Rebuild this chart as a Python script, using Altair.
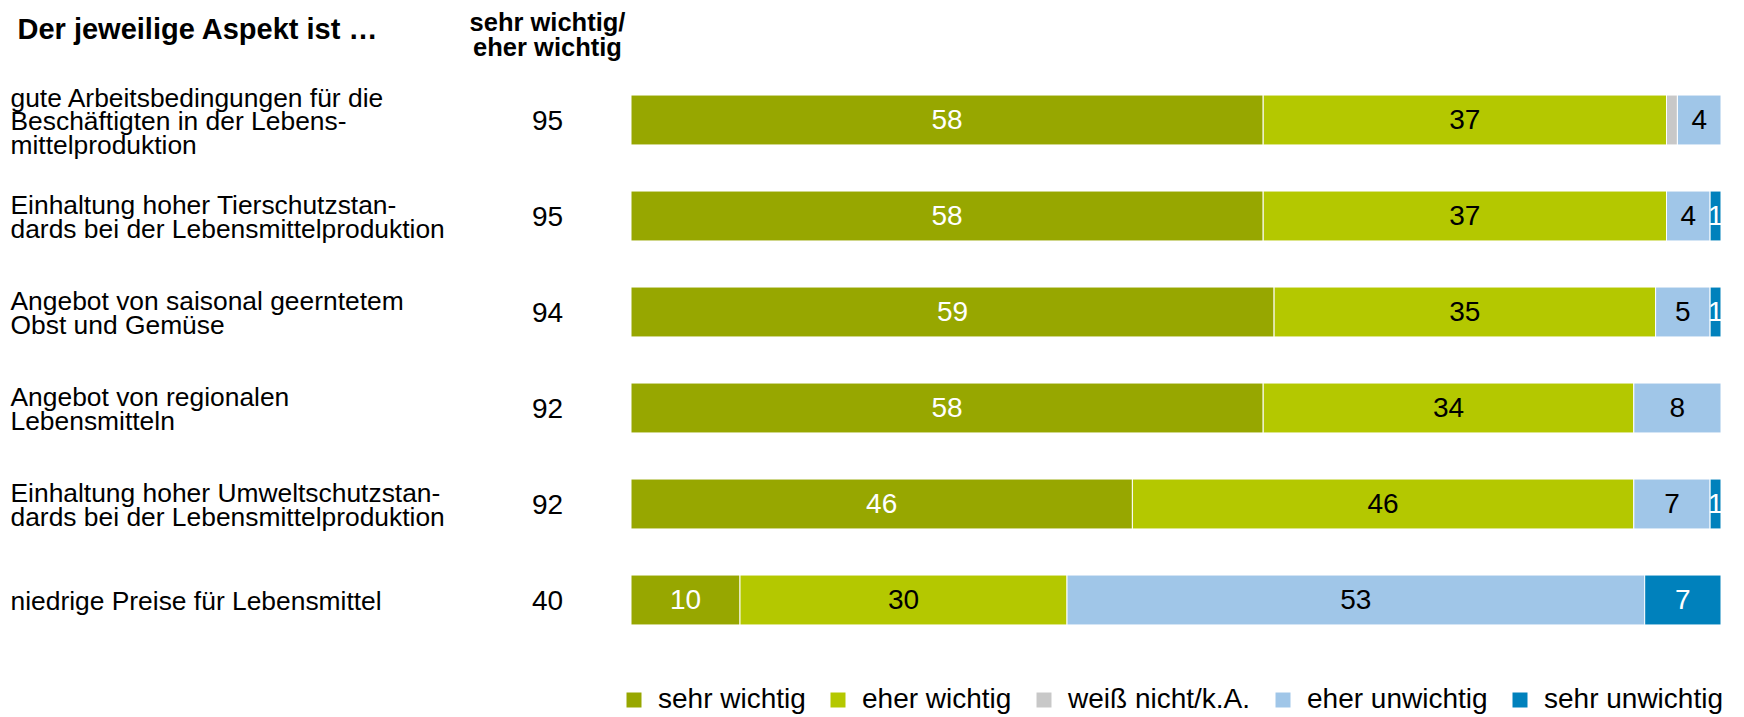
import altair as alt
import pandas as pd

# ---- data ----
aspects = [
    "gute Arbeitsbedingungen für die\nBeschäftigten in der Lebens-\nmittelproduktion",
    "Einhaltung hoher Tierschutzstan-\ndards bei der Lebensmittelproduktion",
    "Angebot von saisonal geerntetem\nObst und Gemüse",
    "Angebot von regionalen\nLebensmitteln",
    "Einhaltung hoher Umweltschutzstan-\ndards bei der Lebensmittelproduktion",
    "niedrige Preise für Lebensmittel",
]
totals = [95, 95, 94, 92, 92, 40]

categories = ["sehr wichtig", "eher wichtig", "weiß nicht/k.A.", "eher unwichtig", "sehr unwichtig"]
sehr_wichtig = [58, 58, 59, 58, 46, 10]
eher_wichtig = [37, 37, 35, 34, 46, 30]
weiss_nicht = [1, 0, 0, 0, 0, 0]
eher_unwichtig = [4, 4, 5, 8, 7, 53]
sehr_unwichtig = [0, 1, 1, 0, 1, 7]

colors = ["#97A700", "#B4C800", "#C8C8C8", "#A0C6E8", "#0081BC"]

series = [sehr_wichtig, eher_wichtig, weiss_nicht, eher_unwichtig, sehr_unwichtig]
rows = []
for ci, (cat, vals) in enumerate(zip(categories, series)):
    for ai, (asp, tot, v) in enumerate(zip(aspects, totals, vals)):
        rows.append({"key": f"{asp}|{tot}", "category": cat, "order": ci, "value": v})
df = pd.DataFrame(rows)
keys = [f"{a}|{t}" for a, t in zip(aspects, totals)]

FONT = "Liberation Sans"
LH = 23.5

yscale = alt.Scale(paddingInner=0.48, paddingOuter=0.24)

nlines = "length(split(split(datum.value, '|')[0], '\\n'))"

axis_labels = alt.Axis(
    orient="left",
    title="Der jeweilige Aspekt ist …",
    titleAngle=0,
    titleAlign="left",
    titleBaseline="alphabetic",
    titleX=-614,
    titleY=-34,
    titleFontSize=29,
    titleFontWeight="bold",
    titleColor="black",
    labelExpr="split(split(datum.label, '|')[0], '\\n')",
    labelAlign="left",
    labelBaseline="middle",
    labelPadding=621,
    labelFontSize=26.4,
    labelLineHeight=LH,
    labelOffset={
        "condition": [
            {"test": f"{nlines} == 3", "value": 2 - LH},
            {"test": f"{nlines} == 2", "value": 2 - LH / 2},
        ],
        "value": 2,
    },
    labelColor="black",
    labelLimit=1000,
    ticks=False,
    domain=False,
    grid=False,
)

axis_totals = alt.Axis(
    orient="left",
    title=["sehr wichtig/", "eher wichtig"],
    titleAngle=0,
    titleAlign="center",
    titleBaseline="alphabetic",
    titleX=-84,
    titleY=-42,
    titleFontSize=25.5,
    titleLineHeight=25,
    titleFontWeight="bold",
    titleColor="black",
    labelExpr="split(datum.label, '|')[1]",
    labelAlign="center",
    labelBaseline="middle",
    labelPadding=84,
    labelFontSize=28,
    labelOffset=2,
    labelColor="black",
    labelLimit=1000,
    ticks=False,
    domain=False,
    grid=False,
)

base = alt.Chart(df).transform_filter("datum.value > 0").transform_stack(
    stack="value",
    groupby=["key"],
    sort=[alt.SortField("order", order="ascending")],
    as_=["x0", "x1"],
).transform_calculate(mid="(datum.x0 + datum.x1) / 2")

bars = base.mark_bar(stroke="white", strokeWidth=1).encode(
    x=alt.X("x0:Q", scale=alt.Scale(domain=[0, 100], nice=False, zero=True), axis=None),
    x2="x1:Q",
    y=alt.Y("key:N", sort=keys, scale=yscale, axis=axis_labels),
    color=alt.Color(
        "category:N",
        scale=alt.Scale(domain=categories, range=colors),
        sort=categories,
        legend=alt.Legend(
            orient="none",
            legendX=-11,
            legendY=614,
            direction="horizontal",
            columns=5,
            title=None,
            symbolType="square",
            symbolSize=225,
            symbolStrokeWidth=0,
            symbolOpacity=1,
            labelFontSize=28,
            labelOffset=10,
            columnPadding=18,
            labelColor="black",
            labelLimit=500,
            padding=0,
        ),
    ),
)

texts = base.transform_filter(
    "datum.category != 'weiß nicht/k.A.'"
).transform_calculate(
    tcolor="(datum.category == 'sehr wichtig' || datum.category == 'sehr unwichtig') ? 'white' : 'black'"
).mark_text(fontSize=28, baseline="middle", align="center", dy=1).encode(
    x=alt.X("mid:Q", axis=None),
    y=alt.Y("key:N", sort=keys, scale=yscale, axis=axis_totals),
    text=alt.Text("value:Q"),
    color=alt.Color("tcolor:N", scale=None),
)

chart = (
    alt.layer(bars, texts)
    .resolve_axis(y="independent")
    .resolve_scale(color="independent")
    .properties(
        width=1090,
        height=576,
        padding={"left": 623, "top": 64, "right": 15, "bottom": 80},
        autosize=alt.AutoSizeParams(type="none"),
    )
    .configure(font=FONT)
    .configure_view(stroke=None)
)

chart.save("out.html", embed_options={"renderer": "svg", "actions": False})
